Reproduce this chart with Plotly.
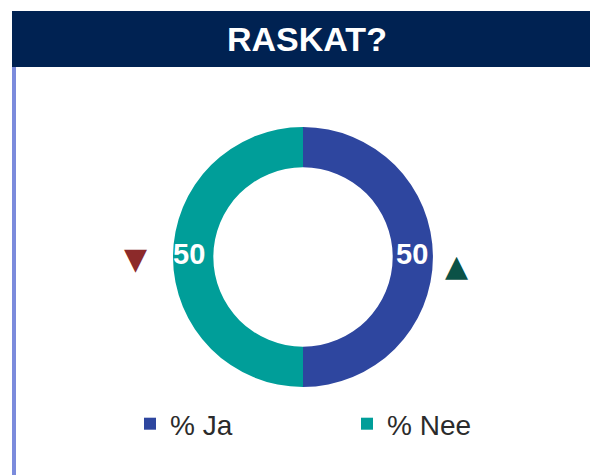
import plotly.graph_objects as go

# data
categories = ["% Ja", "% Nee"]
values = [50, 50]
value_labels = ["50", "50"]
colors = ["#2E469F", "#009E99"]
title_text = "RASKAT?"
trend_glyphs = ["▼", "▲"]
trend_colors = ["#8C2A2A", "#0B5247"]

W, H = 590, 475


def px(x):
    return x / W


def py(y):
    return (H - y) / H


fig = go.Figure()

cx, cy, R = 303, 257, 130
fig.add_trace(go.Pie(
    labels=categories,
    values=values,
    hole=0.69,
    sort=False,
    direction="clockwise",
    rotation=0,
    marker=dict(colors=colors, line=dict(width=0)),
    textinfo="none",
    hoverinfo="label+percent",
    domain=dict(x=[px(cx - R), px(cx + R)], y=[py(cy + R), py(cy - R)]),
    showlegend=True,
))

FONT = "Liberation Sans, Arial, sans-serif"

annotations = [
    dict(text="<b>%s</b>" % title_text, xref="paper", yref="paper",
         x=px(307), y=py(39), xanchor="center", yanchor="middle",
         showarrow=False, font=dict(size=34, color="white", family=FONT)),
    dict(text="<b>%s</b>" % value_labels[1], xref="paper", yref="paper",
         x=px(189), y=py(254), xanchor="center", yanchor="middle",
         showarrow=False, font=dict(size=29, color="white", family=FONT)),
    dict(text="<b>%s</b>" % value_labels[0], xref="paper", yref="paper",
         x=px(412), y=py(254), xanchor="center", yanchor="middle",
         showarrow=False, font=dict(size=29, color="white", family=FONT)),
]
for glyph, col, (tx, ty) in zip(trend_glyphs, trend_colors, [(135, 258), (456, 265)]):
    annotations.append(dict(text=glyph, xref="paper", yref="paper",
                            x=px(tx), y=py(ty), xanchor="center", yanchor="middle",
                            showarrow=False, font=dict(size=30, color=col, family="DejaVu Sans")))

fig.update_layout(
    width=W, height=H,
    margin=dict(l=0, r=0, t=0, b=0),
    paper_bgcolor="white",
    plot_bgcolor="rgba(0,0,0,0)",
    font=dict(family=FONT),
    legend=dict(
        orientation="h",
        x=px(130), xanchor="left",
        y=py(424), yanchor="middle",
        font=dict(size=28, color="#2B2B2B", family=FONT),
        entrywidth=172, entrywidthmode="pixels",
        itemclick=False, itemdoubleclick=False,
    ),
    shapes=[
        dict(type="rect", xref="paper", yref="paper",
             x0=px(12), x1=1, y0=py(67), y1=py(11),
             fillcolor="#002252", line=dict(width=0), layer="below"),
        dict(type="rect", xref="paper", yref="paper",
             x0=px(12), x1=px(16), y0=0, y1=py(67),
             fillcolor="#7B8BDC", line=dict(width=0), layer="below"),
    ],
    annotations=annotations,
)

fig.write_html(
    "out.html",
    config={"displayModeBar": False},
    post_script="document.body.style.margin='0';document.body.style.overflow='hidden';",
)
